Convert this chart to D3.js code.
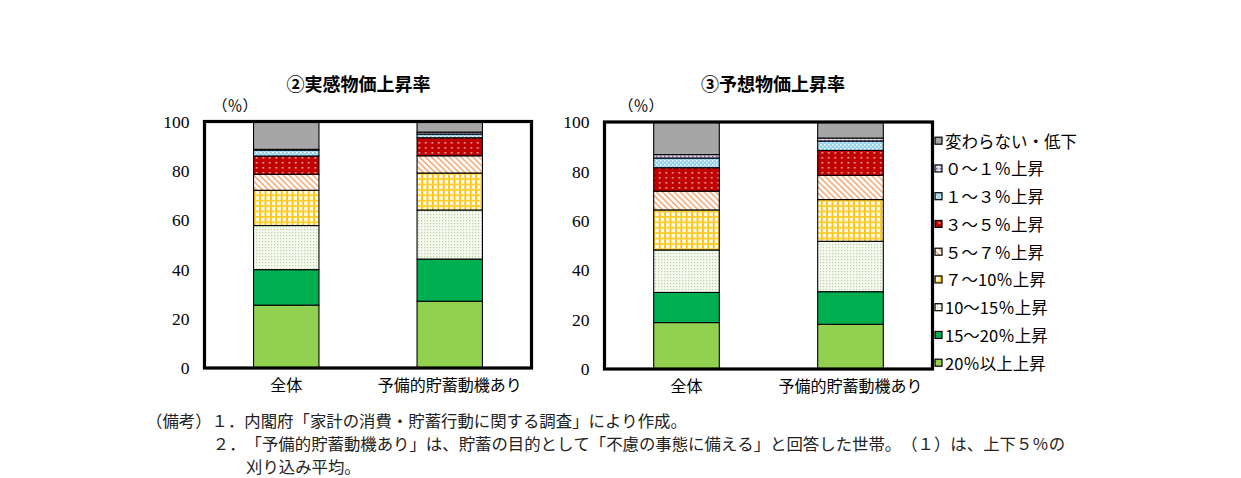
<!DOCTYPE html>
<html>
<head>
<meta charset="utf-8">
<script src="https://cdn.jsdelivr.net/npm/d3@7"></script>
<style>
  html, body { margin: 0; padding: 0; background: #fff; }
  svg { display: block; }
  svg text { text-spacing-trim: space-all; font-kerning: none; }
  .jp { font-family: "Noto Sans CJK JP", "Noto Sans", sans-serif; }
  .num { font-family: "Liberation Serif", "DejaVu Serif", serif; }
</style>
</head>
<body>
<svg id="chart" width="1241" height="478"></svg>
<script>
// ---------- data ----------
const categories = ["全体", "予備的貯蓄動機あり"];
// bottom -> top stacking order
const seriesKeys = ["s20plus", "s15_20", "s10_15", "s7_10", "s5_7", "s3_5", "s1_3", "s0_1", "sFlat"];
const seriesLabels = ["20％以上上昇", "15～20％上昇", "10～15％上昇", "７～10％上昇", "５～７％上昇", "３～５％上昇", "１～３％上昇", "０～１％上昇", "変わらない・低下"];
// ② 実感物価上昇率 (values per series, for 全体 / 予備的貯蓄動機あり)
const perceivedAll  = [25.5, 14.4, 17.9, 14.3, 6.5, 7.4, 2.4, 0.3, 11.3];
const perceivedPrec = [27.1, 17.1, 19.9, 15.0, 7.0, 7.3, 1.5, 0.8, 4.3];
// ③ 予想物価上昇率
const expectedAll   = [18.8, 12.2, 17.2, 16.2, 7.6, 9.5, 3.9, 1.4, 13.2];
const expectedPrec  = [18.1, 13.2, 20.4, 16.9, 9.8, 10.1, 3.8, 1.2, 6.5];
const yTicks = [0, 20, 40, 60, 80, 100];
const titles = ["②実感物価上昇率", "③予想物価上昇率"];
const unitLabel = "（％）";
const notes = [
  "（備考）１．内閣府「家計の消費・貯蓄行動に関する調査」により作成。",
  "２．「予備的貯蓄動機あり」は、貯蓄の目的として「不慮の事態に備える」と回答した世帯。（１）は、上下５％の",
  "刈り込み平均。"
];

// ---------- svg + patterns ----------
const svg = d3.select("#chart");
const defs = svg.append("defs");

function pat(id, w, h, build, transform) {
  const p = defs.append("pattern").attr("id", id)
    .attr("patternUnits", "userSpaceOnUse").attr("width", w).attr("height", h);
  if (transform) p.attr("patternTransform", transform);
  build(p);
}
// 0-1%: lavender dots
pat("p01", 4, 4, p => {
  p.append("rect").attr("width", 4).attr("height", 4).attr("fill", "#D9CCE8");
  p.append("rect").attr("x", 0).attr("y", 0).attr("width", 1.5).attr("height", 1.5).attr("fill", "#8064A2");
  p.append("rect").attr("x", 2).attr("y", 2).attr("width", 1.5).attr("height", 1.5).attr("fill", "#FFFFFF");
});
// 1-3%: light blue checker
pat("p13", 4, 4, p => {
  p.append("rect").attr("width", 4).attr("height", 4).attr("fill", "#8FD3F0");
  p.append("rect").attr("x", 0).attr("y", 0).attr("width", 1.5).attr("height", 1.5).attr("fill", "#FFFFFF");
  p.append("rect").attr("x", 2).attr("y", 2).attr("width", 1.5).attr("height", 1.5).attr("fill", "#D8F0FB");
});
// 3-5%: dark red with light dots
pat("p35", 6.5, 5, p => {
  p.append("rect").attr("width", 6.5).attr("height", 5).attr("fill", "#C00000");
  p.append("rect").attr("x", 2.5).attr("y", 2).attr("width", 1.6).attr("height", 1.6).attr("fill", "#F2B8B8");
});
// 5-7%: orange diagonal stripes
pat("p57", 4.2, 4.2, p => {
  p.append("rect").attr("width", 4.2).attr("height", 4.2).attr("fill", "#FFFFFF");
  p.append("rect").attr("x", 0).attr("y", 0).attr("width", 1.7).attr("height", 4.2).attr("fill", "#F4B183");
}, "rotate(-45)");
// 7-10%: yellow grid
pat("p710", 5.4, 5.4, p => {
  p.append("rect").attr("width", 5.4).attr("height", 5.4).attr("fill", "#FFFBEA");
  p.append("rect").attr("x", 0).attr("y", 0).attr("width", 1.8).attr("height", 5.4).attr("fill", "#FFC000");
  p.append("rect").attr("x", 0).attr("y", 0).attr("width", 5.4).attr("height", 1.8).attr("fill", "#FFCC33");
});
// 10-15%: light green speckle
pat("p1015", 3, 3, p => {
  p.append("rect").attr("width", 3).attr("height", 3).attr("fill", "#F5F9EF");
  p.append("rect").attr("x", 1).attr("y", 1).attr("width", 1.2).attr("height", 1.2).attr("fill", "#B5D19C");
});

const fills = {
  s20plus: "#92D050",
  s15_20: "#00B050",
  s10_15: "url(#p1015)",
  s7_10: "url(#p710)",
  s5_7: "url(#p57)",
  s3_5: "url(#p35)",
  s1_3: "url(#p13)",
  s0_1: "url(#p01)",
  sFlat: "#A6A6A6"
};

// ---------- panels ----------
const panels = [
  { title: titles[0], values: [perceivedAll, perceivedPrec], x0: 204.5, x1: 531.5, yTop: 121.5, yBot: 368, titleX: 358.5, unitX: 235, unitY: 104 },
  { title: titles[1], values: [expectedAll, expectedPrec],   x0: 604.5, x1: 932.5, yTop: 122,   yBot: 369, titleX: 773,   unitX: 641, unitY: 104 }
];

panels.forEach(pn => {
  const g = svg.append("g");
  const x = d3.scaleBand().domain(categories).range([pn.x0, pn.x1]).paddingInner(0.6).paddingOuter(0.3);
  const y = d3.scaleLinear().domain([0, 100]).range([pn.yBot, pn.yTop]);

  const rows = categories.map((c, ci) => {
    const o = { cat: c };
    seriesKeys.forEach((k, si) => o[k] = pn.values[ci][si]);
    return o;
  });
  const stacked = d3.stack().keys(seriesKeys)(rows);

  g.selectAll("g.layer").data(stacked).join("g").attr("class", "layer")
    .attr("fill", d => fills[d.key])
    .selectAll("rect").data(d => d).join("rect")
      .attr("x", d => x(d.data.cat))
      .attr("width", x.bandwidth())
      .attr("y", d => y(d[1]))
      .attr("height", d => y(d[0]) - y(d[1]))
      .attr("stroke", "#000").attr("stroke-width", 1.1);

  // frame
  g.append("rect").attr("x", pn.x0).attr("y", pn.yTop)
    .attr("width", pn.x1 - pn.x0).attr("height", pn.yBot - pn.yTop)
    .attr("fill", "none").attr("stroke", "#000").attr("stroke-width", 3.2);

  // y axis labels
  const ax = g.append("g").attr("transform", `translate(${pn.x0},0)`)
    .call(d3.axisLeft(y).tickValues(yTicks).tickSize(0).tickPadding(15));
  ax.select(".domain").remove();
  ax.selectAll("text").attr("class", "num").style("font-size", "17.5px").attr("fill", "#000");

  // x category labels
  const axb = g.append("g").attr("transform", `translate(0,${pn.yBot})`)
    .call(d3.axisBottom(x).tickSize(0).tickPadding(12));
  axb.select(".domain").remove();
  axb.selectAll("text").attr("class", "jp").style("font-size", "16px").attr("fill", "#000");

  // title
  g.append("text").attr("class", "jp").attr("x", pn.titleX).attr("y", 83)
    .attr("text-anchor", "middle").attr("dominant-baseline", "central")
    .style("font-size", "18px").style("font-weight", "bold").text(pn.title);

  // unit
  g.append("text").attr("class", "jp").attr("x", pn.unitX).attr("y", pn.unitY)
    .attr("text-anchor", "middle").attr("dominant-baseline", "central")
    .style("font-size", "15px").text(unitLabel);
});

// ---------- legend ----------
const legendOrder = seriesKeys.slice().reverse();
const lg = svg.append("g");
legendOrder.forEach((k, i) => {
  const cy = 140.7 + i * 27.75;
  lg.append("rect").attr("x", 935).attr("y", cy - 3.5).attr("width", 7).attr("height", 7)
    .attr("fill", fills[k]).attr("stroke", "#000").attr("stroke-width", 1.2);
  lg.append("text").attr("class", "jp").attr("x", 945).attr("y", cy)
    .attr("dominant-baseline", "central").style("font-size", "16.5px")
    .text(seriesLabels[seriesKeys.indexOf(k)]);
});

// ---------- notes ----------
const notePos = [[146, 420], [212.8, 443], [246, 466]];
notes.forEach((t, i) => {
  svg.append("text").attr("class", "jp").attr("x", notePos[i][0]).attr("y", notePos[i][1])
    .attr("dominant-baseline", "central").style("font-size", "16.4px").attr("fill", "#222").text(t);
});
</script>
</body>
</html>
